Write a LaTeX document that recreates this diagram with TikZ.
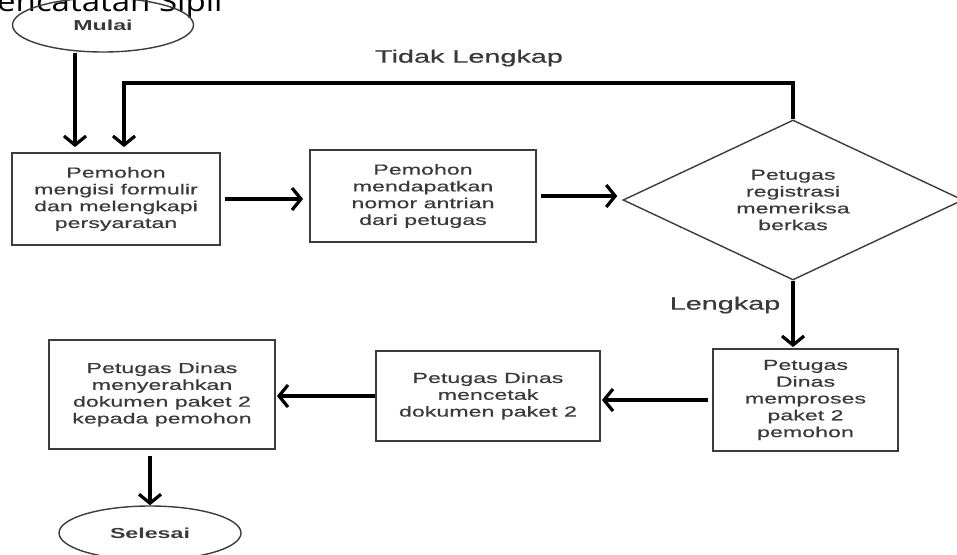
\documentclass[tikz,border=0pt]{standalone}
\usepackage{fontspec}
\setmainfont[FakeStretch=1.6]{Liberation Sans}
\newfontfamily\boxfont[FakeStretch=1.6,FakeBold=0.6]{Liberation Sans}
\newfontfamily\headfont[FakeStretch=1.18]{Open Sans}
\usetikzlibrary{shapes.geometric,arrows.meta}
\definecolor{txt}{HTML}{3A3A3A}
\definecolor{edge}{HTML}{3C3C3C}
\tikzset{
  arr/.style={line width=3.6pt,-{Straight Barb[length=9pt,width=22pt,line width=3.2pt]}},
  box/.style={draw=edge,line width=1.8pt,rectangle,align=center,text=txt,
    font=\boxfont\fontsize{14.5}{16.8}\selectfont,inner sep=2pt},
  term/.style={draw=edge,line width=1.4pt,ellipse,text=txt,
    font=\fontsize{14.5}{17}\selectfont\bfseries,inner sep=0pt},
  lbl/.style={text=txt,font=\boxfont\fontsize{18}{22}\selectfont}
}
\begin{document}
\begin{tikzpicture}[x=1pt,y=1pt]
\useasboundingbox (0,0) rectangle (957,-554);
\clip (0,0) rectangle (957,-554);
\node[anchor=base west,inner sep=0pt,font=\headfont\fontsize{28}{30}\selectfont] (head) at (-3,-12) {encatatan Sipil};
\node[term,minimum width=181pt,minimum height=54pt] (mulai) at (103,-25) {Mulai};
\node[box,minimum width=208pt,minimum height=92pt] (b1) at (116,-199) {Pemohon\\mengisi formulir\\dan melengkapi\\persyaratan};
\node[box,minimum width=226pt,minimum height=92pt] (b2) at (423,-196) {Pemohon\\mendapatkan\\nomor antrian\\dari petugas};
\node[draw=edge,line width=1.4pt,diamond,aspect=2.1,minimum width=340pt,minimum height=160pt,inner sep=0pt,align=center,text=txt,font=\boxfont\fontsize{14.5}{16.8}\selectfont] (d) at (793,-200) {Petugas\\registrasi\\memeriksa\\berkas};
\node[box,minimum width=185pt,minimum height=102pt] (b3) at (805.5,-400) {Petugas\\Dinas\\memproses\\paket 2\\pemohon};
\node[box,minimum width=224pt,minimum height=90pt] (b4) at (488,-396) {Petugas Dinas\\mencetak\\dokumen paket 2};
\node[box,minimum width=226pt,minimum height=109pt] (b5) at (162,-394.5) {Petugas Dinas\\menyerahkan\\dokumen paket 2\\kepada pemohon};
\node[term,minimum width=182pt,minimum height=54pt] (selesai) at (150,-533) {Selesai};
\node[lbl] (tl) at (469,-58) {Tidak Lengkap};
\node[lbl] (lk) at (725,-305) {Lengkap};
\coordinate (loopc) at (124,-83);
\draw[arr,shorten >=5pt] ([xshift=-28pt]mulai.south) -- ([xshift=-41pt]b1.north);
\draw[arr,shorten >=5pt] (d.north) |- (loopc) -- (loopc |- b1.north);
\draw[arr,shorten <=4pt,shorten >=6pt] (b1.east) -- (b1.east -| b2.west);
\draw[arr,shorten <=4pt,shorten >=5pt] (b2.east) -- (b2.east -| d.west);
\draw[arr,shorten >=1pt] (d.south) -- (d.south |- b3.north);
\draw[arr,shorten <=4pt,shorten >=1pt] (b3.west) -- (b3.west -| b4.east);
\draw[arr,shorten >=1pt] (b4.west) -- (b4.west -| b5.east);
\draw[arr,shorten <=6pt] (b5.south -| selesai.north) -- (selesai.north);
\end{tikzpicture}
\end{document}
